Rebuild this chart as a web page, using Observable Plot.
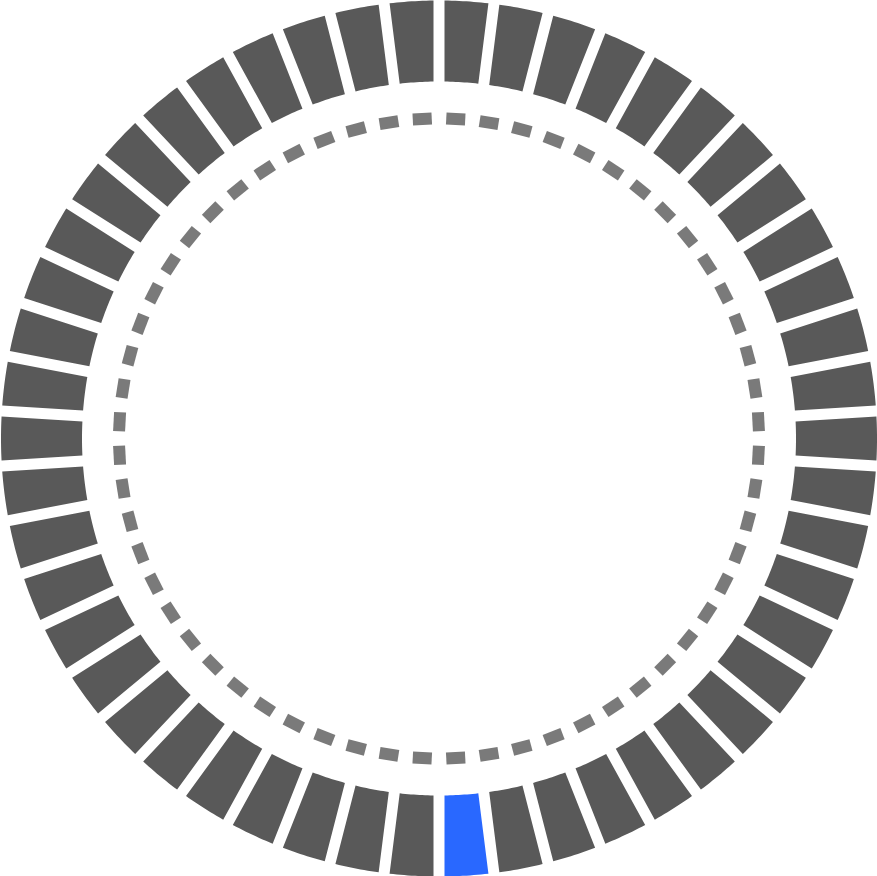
<!DOCTYPE html>
<html>
<head>
<meta charset="utf-8">
<script src="https://cdn.jsdelivr.net/npm/d3@7"></script>
<script src="https://cdn.jsdelivr.net/npm/@observablehq/plot@0.6"></script>
<style>
  html, body { margin: 0; padding: 0; background: #ffffff; }
  #chart svg { display: block; }
</style>
</head>
<body>
<div id="chart"></div>
<script>
// ---- data ----
const segmentIds = d3.range(50);          // 50 ring segments, clockwise from 12 o'clock
const segmentValues = segmentIds.map(() => 1); // each segment equal share
const activeSegment = 24;                 // highlighted (blue) segment
const dashIds = d3.range(60);             // 60 dashes of the inner dashed circle

// ---- layout ----
const W = 877, H = 876;
const R_OUT = 438, R_IN = 357, R_DASH = 320;
const HALF_GAP = 5.5, DASH_HALF = 9.5;
const total = d3.sum(segmentValues);

// polygon points for each ring segment (angle in radians, clockwise from top)
const segPts = [];
let acc = 0;
segmentIds.forEach((id, i) => {
  const a0 = acc / total * 2 * Math.PI;
  acc += segmentValues[i];
  const a1 = acc / total * 2 * Math.PI;
  const steps = 12;
  const outer = [], inner = [];
  for (let k = 0; k <= steps; k++) {
    const t = k / steps;
    const po = Math.asin(HALF_GAP / R_OUT), pi = Math.asin(HALF_GAP / R_IN);
    const ao = (a0 + po) + t * ((a1 - po) - (a0 + po));
    const ai = (a1 - pi) - t * ((a1 - pi) - (a0 + pi));
    outer.push({id, active: id === activeSegment, x: R_OUT * Math.sin(ao), y: R_OUT * Math.cos(ao)});
    inner.push({id, active: id === activeSegment, x: R_IN * Math.sin(ai), y: R_IN * Math.cos(ai)});
  }
  segPts.push(...outer, ...inner);
});

// dashes of the inner circle
const dashPts = [];
dashIds.forEach(i => {
  const c = (i + 0.5) / dashIds.length * 2 * Math.PI;
  const h = DASH_HALF / R_DASH;
  [c - h, c + h].forEach(a => dashPts.push({id: i, x: R_DASH * Math.sin(a), y: R_DASH * Math.cos(a)}));
});

const chart = Plot.plot({
  width: W,
  height: H,
  margin: 0,
  style: {background: "#ffffff"},
  x: {domain: [-W / 2, W / 2], axis: null},
  y: {domain: [-H / 2, H / 2], axis: null},
  marks: [
    Plot.line(segPts, {
      x: "x", y: "y", z: "id",
      curve: "linear-closed",
      fill: d => d.active ? "#2968ff" : "#595959",
      stroke: null
    }),
    Plot.line(dashPts, {
      x: "x", y: "y", z: "id",
      stroke: "#7a7a7a",
      strokeWidth: 12,
      strokeLinecap: "butt"
    })
  ]
});
document.getElementById("chart").appendChild(chart);
</script>
</body>
</html>
